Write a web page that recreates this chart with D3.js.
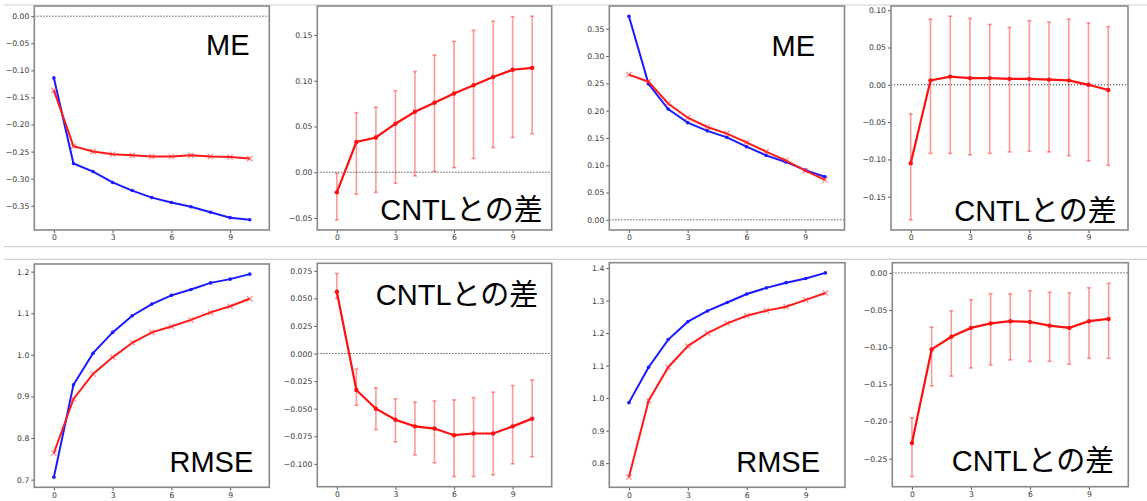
<!DOCTYPE html>
<html>
<head>
<meta charset="utf-8">
<script src="https://cdn.jsdelivr.net/npm/d3@7"></script>
<style>
  body { margin: 0; background: #fff; }
  svg { display: block; }
  .tick text { font-family: "DejaVu Sans", sans-serif; font-size: 7.7px; fill: #3a3a3a; }
  .tick line { stroke: #555; }
  .label { font-family: "Liberation Sans", Arial, "Noto Sans CJK JP", sans-serif; font-size: 29px; fill: #000; }
</style>
</head>
<body>
<div id="chart"></div>
<script>
const width = 1147;
const height = 501;

const steps = [0, 1, 2, 3, 4, 5, 6, 7, 8, 9, 10];
const xTicks = [0, 3, 6, 9];

// left half, ME
const leftMeBlue = [-0.114, -0.272, -0.287, -0.307, -0.322, -0.335, -0.344, -0.352, -0.362, -0.372, -0.376];
const leftMeRed = [-0.137, -0.240, -0.250, -0.255, -0.257, -0.259, -0.259, -0.257, -0.259, -0.260, -0.263];
const leftMeDiff = [-0.022, 0.033, 0.038, 0.053, 0.066, 0.076, 0.086, 0.095, 0.104, 0.112, 0.114];
const leftMeDiffLow = [-0.052, -0.024, -0.022, -0.012, -0.004, 0.001, 0.005, 0.015, 0.027, 0.038, 0.042];
const leftMeDiffHigh = [-0.001, 0.065, 0.071, 0.089, 0.110, 0.128, 0.143, 0.155, 0.165, 0.170, 0.1705];

// right half, ME
const rightMeBlue = [0.373, 0.249, 0.203, 0.178, 0.163, 0.151, 0.134, 0.118, 0.106, 0.091, 0.079];
const rightMeRed = [0.266, 0.253, 0.213, 0.187, 0.170, 0.158, 0.142, 0.125, 0.109, 0.090, 0.073];
const rightMeDiff = [-0.105, 0.006, 0.011, 0.009, 0.009, 0.008, 0.008, 0.007, 0.006, 0.000, -0.007];
const rightMeDiffLow = [-0.181, -0.092, -0.092, -0.094, -0.092, -0.090, -0.089, -0.090, -0.095, -0.102, -0.108];
const rightMeDiffHigh = [-0.039, 0.088, 0.092, 0.089, 0.081, 0.077, 0.086, 0.084, 0.088, 0.083, 0.078];

// left half, RMSE
const leftRmseBlue = [0.706, 0.928, 1.004, 1.054, 1.094, 1.122, 1.143, 1.157, 1.173, 1.182, 1.194];
const leftRmseRed = [0.764, 0.894, 0.954, 0.994, 1.029, 1.054, 1.068, 1.084, 1.102, 1.117, 1.135];
const leftRmseDiff = [0.056, -0.033, -0.050, -0.060, -0.066, -0.068, -0.074, -0.0725, -0.0725, -0.066, -0.059];
const leftRmseDiffLow = [0.050, -0.047, -0.069, -0.080, -0.092, -0.099, -0.1115, -0.1115, -0.110, -0.100, -0.0935];
const leftRmseDiffHigh = [0.0726, -0.014, -0.031, -0.041, -0.044, -0.043, -0.042, -0.040, -0.035, -0.029, -0.024];

// right half, RMSE
const rightRmseBlue = [0.986, 1.095, 1.180, 1.235, 1.268, 1.294, 1.320, 1.339, 1.355, 1.368, 1.385];
const rightRmseRed = [0.757, 0.992, 1.095, 1.160, 1.200, 1.230, 1.253, 1.269, 1.281, 1.302, 1.323];
const rightRmseDiff = [-0.229, -0.103, -0.086, -0.074, -0.068, -0.065, -0.066, -0.071, -0.074, -0.065, -0.062];
const rightRmseDiffLow = [-0.274, -0.152, -0.139, -0.128, -0.124, -0.117, -0.119, -0.119, -0.123, -0.115, -0.115];
const rightRmseDiffHigh = [-0.195, -0.073, -0.051, -0.036, -0.028, -0.028, -0.024, -0.026, -0.027, -0.020, -0.014];

// y tick values for each panel
const ticksMeLeft = [0, -0.05, -0.10, -0.15, -0.20, -0.25, -0.30, -0.35];
const ticksMeLeftDiff = [-0.05, 0, 0.05, 0.10, 0.15];
const ticksMeRight = [0, 0.05, 0.10, 0.15, 0.20, 0.25, 0.30, 0.35];
const ticksMeRightDiff = [-0.15, -0.10, -0.05, 0, 0.05, 0.10];
const ticksRmseLeft = [0.7, 0.8, 0.9, 1.0, 1.1, 1.2];
const ticksRmseLeftDiff = [-0.100, -0.075, -0.050, -0.025, 0, 0.025, 0.050, 0.075];
const ticksRmseRight = [0.8, 0.9, 1.0, 1.1, 1.2, 1.3, 1.4];
const ticksRmseRightDiff = [-0.25, -0.20, -0.15, -0.10, -0.05, 0];

const diffLabel = "CNTLとの差";

const svg = d3.select("#chart")
    .append("svg")
    .attr("width", width)
    .attr("height", height);

// screenshot borders
svg.selectAll("line.sep")
    .data([5, 246.7, 259.3])
    .join("line")
    .attr("class", "sep")
    .attr("x1", 4).attr("x2", width)
    .attr("y1", d => d).attr("y2", d => d)
    .attr("stroke", "#cfcfcf")
    .attr("stroke-width", 1.2);

const panels = [
    { box: [34.3, 6, 269.3, 230], blue: leftMeBlue, red: leftMeRed, zero: true, ticks: ticksMeLeft, fmt: ".2f",
      text: "ME", tx: 249.5, ty: 55 },
    { box: [317.3, 6, 551.7, 230], diff: leftMeDiff, low: leftMeDiffLow, high: leftMeDiffHigh, zero: true, ticks: ticksMeLeftDiff, fmt: ".2f",
      text: diffLabel, tx: 542.7, ty: 220 },
    { box: [609.3, 6, 844.5, 230], blue: rightMeBlue, red: rightMeRed, zero: true, ticks: ticksMeRight, fmt: ".2f",
      text: "ME", tx: 815, ty: 56 },
    { box: [891, 6, 1128, 230], diff: rightMeDiff, low: rightMeDiffLow, high: rightMeDiffHigh, zero: true, ticks: ticksMeRightDiff, fmt: ".2f",
      text: diffLabel, tx: 1116.7, ty: 220.7 },
    { box: [34.3, 264, 269.3, 487.3], blue: leftRmseBlue, red: leftRmseRed, zero: false, ticks: ticksRmseLeft, fmt: ".1f",
      text: "RMSE", tx: 253.3, ty: 471.7 },
    { box: [317.3, 263.3, 551.7, 486.7], diff: leftRmseDiff, low: leftRmseDiffLow, high: leftRmseDiffHigh, zero: true, ticks: ticksRmseLeftDiff, fmt: ".3f",
      text: diffLabel, tx: 538.3, ty: 305 },
    { box: [609.3, 262.7, 845, 487.3], blue: rightRmseBlue, red: rightRmseRed, zero: false, ticks: ticksRmseRight, fmt: ".1f",
      text: "RMSE", tx: 820, ty: 471.7 },
    { box: [892.3, 262.7, 1128.3, 486.7], diff: rightRmseDiff, low: rightRmseDiffLow, high: rightRmseDiffHigh, zero: true, ticks: ticksRmseRightDiff, fmt: ".2f",
      text: diffLabel, tx: 1114.3, ty: 470.7 }
];

panels.forEach(drawPanel);

function drawPanel(p) {
    const [left, top, right, bottom] = p.box;
    const g = svg.append("g");

    const x = d3.scaleLinear().domain([-1, 11]).range([left, right]);

    // matplotlib-style autoscale: data extent plus 5% margins
    let vals = [];
    if (p.blue) vals = vals.concat(p.blue, p.red);
    if (p.diff) vals = vals.concat(p.diff, p.low, p.high);
    if (p.zero) vals.push(0);
    const [lo, hi] = d3.extent(vals);
    const pad = (hi - lo) * 0.05;
    const y = d3.scaleLinear().domain([lo - pad, hi + pad]).range([bottom, top]);

    if (p.zero) {
        g.append("line")
            .attr("x1", left).attr("x2", right)
            .attr("y1", y(0)).attr("y2", y(0))
            .attr("stroke", "#333")
            .attr("stroke-width", 1)
            .attr("stroke-dasharray", "1.2,1.8");
    }

    const line = d3.line()
        .x((d, i) => x(steps[i]))
        .y(d => y(d));

    if (p.diff) {
        const bars = steps.map((s, i) => ({ s, lo: p.low[i], hi: p.high[i] }));
        const eb = g.append("g")
            .attr("stroke", "#ff0000")
            .attr("stroke-opacity", 0.4)
            .attr("stroke-width", 1.6);
        eb.selectAll("line.bar").data(bars).join("line")
            .attr("class", "bar")
            .attr("x1", d => x(d.s)).attr("x2", d => x(d.s))
            .attr("y1", d => y(d.lo)).attr("y2", d => y(d.hi));
        eb.selectAll("line.capl").data(bars).join("line")
            .attr("class", "capl")
            .attr("x1", d => x(d.s) - 2).attr("x2", d => x(d.s) + 2)
            .attr("y1", d => y(d.lo)).attr("y2", d => y(d.lo));
        eb.selectAll("line.caph").data(bars).join("line")
            .attr("class", "caph")
            .attr("x1", d => x(d.s) - 2).attr("x2", d => x(d.s) + 2)
            .attr("y1", d => y(d.hi)).attr("y2", d => y(d.hi));

        g.append("path")
            .datum(p.diff)
            .attr("d", line)
            .attr("fill", "none")
            .attr("stroke", "#ff1010")
            .attr("stroke-width", 2.2);
        g.selectAll("circle.pt").data(p.diff).join("circle")
            .attr("class", "pt")
            .attr("cx", (d, i) => x(steps[i]))
            .attr("cy", d => y(d))
            .attr("r", 2.2)
            .attr("fill", "#ff1010");
    } else {
        g.append("path")
            .datum(p.blue)
            .attr("d", line)
            .attr("fill", "none")
            .attr("stroke", "#1a1aff")
            .attr("stroke-width", 2);
        g.selectAll("circle.pt").data(p.blue).join("circle")
            .attr("class", "pt")
            .attr("cx", (d, i) => x(steps[i]))
            .attr("cy", d => y(d))
            .attr("r", 1.8)
            .attr("fill", "#1a1aff");

        g.append("path")
            .datum(p.red)
            .attr("d", line)
            .attr("fill", "none")
            .attr("stroke", "#ff1a1a")
            .attr("stroke-width", 2);
        g.selectAll("path.xm").data(p.red).join("path")
            .attr("class", "xm")
            .attr("d", (d, i) => {
                const cx = x(steps[i]), cy = y(d), r = 2.6;
                return `M${cx - r},${cy - r}L${cx + r},${cy + r}M${cx - r},${cy + r}L${cx + r},${cy - r}`;
            })
            .attr("stroke", "#ff3030")
            .attr("stroke-opacity", 0.6)
            .attr("stroke-width", 1.2);
    }

    const xAxis = g.append("g")
        .attr("transform", `translate(0,${bottom})`)
        .call(d3.axisBottom(x).tickValues(xTicks).tickSize(3).tickPadding(2).tickFormat(d3.format("d")));
    xAxis.select(".domain").remove();

    const yAxis = g.append("g")
        .attr("transform", `translate(${left},0)`)
        .call(d3.axisLeft(y).tickValues(p.ticks).tickSize(3).tickPadding(2).tickFormat(d3.format(p.fmt)));
    yAxis.select(".domain").remove();

    g.append("rect")
        .attr("x", left).attr("y", top)
        .attr("width", right - left).attr("height", bottom - top)
        .attr("fill", "none")
        .attr("stroke", "#888")
        .attr("stroke-width", 1.6);

    g.append("text")
        .attr("class", "label")
        .attr("x", p.tx).attr("y", p.ty)
        .attr("text-anchor", "end")
        .text(p.text);
}
</script>
</body>
</html>
